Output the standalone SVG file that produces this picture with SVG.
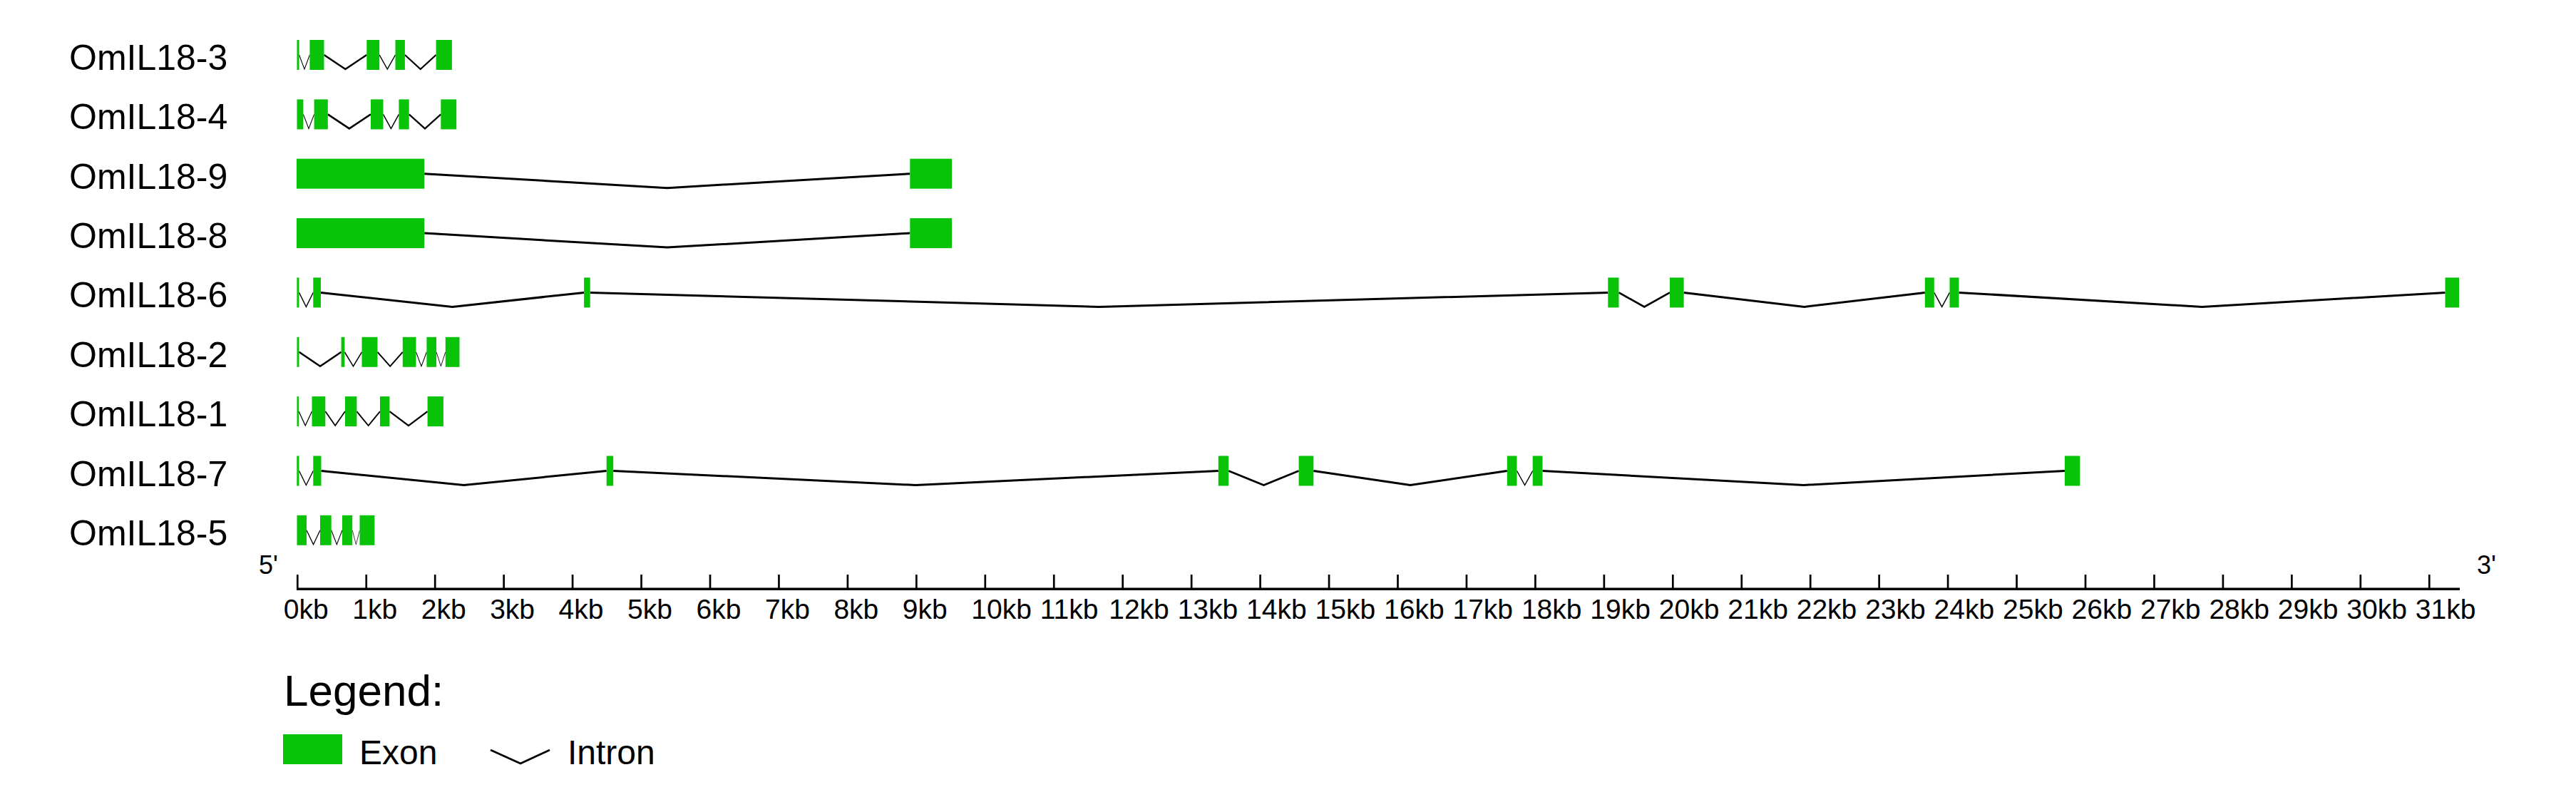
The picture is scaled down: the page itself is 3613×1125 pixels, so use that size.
<svg xmlns="http://www.w3.org/2000/svg" width="3613" height="1125" viewBox="0 0 3613 1125">
<style>
text{font-family:"Liberation Sans",Arial,sans-serif;fill:#000}
.lab{font-size:50px}
.ex{fill:#09c309}
.in{fill:none;stroke:#000;stroke-linejoin:miter}
.tk{stroke:#000;stroke-width:2.7}
.kb{font-size:39px}
</style>
<rect width="3613" height="1125" fill="#fff"/>
<g id="connectors">
<polyline class="in" stroke-width="1.04" points="419.6,77 427,97 434.4,77"/>
<polyline class="in" stroke-width="2.49" points="454.5,77 484.4,97 514.3,77"/>
<polyline class="in" stroke-width="1.47" points="532.1,77 543.3,97 554.5,77"/>
<polyline class="in" stroke-width="2.21" points="567.9,77 589.75,97 611.6,77"/>
<polyline class="in" stroke-width="1.07" points="425.4,160.4 433,180.4 440.6,160.4"/>
<polyline class="in" stroke-width="2.5" points="459.8,160.4 489.9,180.4 520,160.4"/>
<polyline class="in" stroke-width="1.44" points="537.5,160.4 548.45,180.4 559.4,160.4"/>
<polyline class="in" stroke-width="2.23" points="573.7,160.4 596,180.4 618.3,160.4"/>
<polyline class="in" stroke-width="3" points="595.2,243.7 935.75,263.7 1276.3,243.7"/>
<polyline class="in" stroke-width="3" points="595.2,327.1 935.75,347.1 1276.3,327.1"/>
<polyline class="in" stroke-width="1.33" points="419.5,410.4 429.4,430.4 439.3,410.4"/>
<polyline class="in" stroke-width="3" points="450,410.4 634.55,430.4 819.1,410.4"/>
<polyline class="in" stroke-width="3" points="827.7,410.4 1541.5,430.4 2255.3,410.4"/>
<polyline class="in" stroke-width="2.62" points="2270.5,410.4 2306.25,430.4 2342,410.4"/>
<polyline class="in" stroke-width="3" points="2361.6,410.4 2530.7,430.4 2699.8,410.4"/>
<polyline class="in" stroke-width="1.43" points="2712.8,410.4 2723.65,430.4 2734.5,410.4"/>
<polyline class="in" stroke-width="3" points="2747.5,410.4 3088.5,430.4 3429.5,410.4"/>
<polyline class="in" stroke-width="2.49" points="419.5,493.8 449.05,513.8 478.6,493.8"/>
<polyline class="in" stroke-width="1.55" points="483.4,493.8 495.45,513.8 507.5,493.8"/>
<polyline class="in" stroke-width="1.98" points="529.5,493.8 547.15,513.8 564.8,493.8"/>
<polyline class="in" stroke-width="1.05" points="583.5,493.8 590.95,513.8 598.4,493.8"/>
<polyline class="in" stroke-width="0.91" points="612,493.8 618.4,513.8 624.8,493.8"/>
<polyline class="in" stroke-width="1.26" points="419,577.1 428.25,597.1 437.5,577.1"/>
<polyline class="in" stroke-width="1.71" points="456.3,577.1 470.15,597.1 484,577.1"/>
<polyline class="in" stroke-width="1.9" points="500.4,577.1 516.7,597.1 533,577.1"/>
<polyline class="in" stroke-width="2.4" points="546.4,577.1 573,597.1 599.6,577.1"/>
<polyline class="in" stroke-width="1.33" points="419.5,660.5 429.4,680.5 439.3,660.5"/>
<polyline class="in" stroke-width="3" points="450.5,660.5 650.6,680.5 850.7,660.5"/>
<polyline class="in" stroke-width="3" points="860.2,660.5 1284.5,680.5 1708.8,660.5"/>
<polyline class="in" stroke-width="2.78" points="1723.2,660.5 1772.4,680.5 1821.6,660.5"/>
<polyline class="in" stroke-width="2.97" points="1842.3,660.5 1978.05,680.5 2113.8,660.5"/>
<polyline class="in" stroke-width="1.46" points="2127.5,660.5 2138.6,680.5 2149.7,660.5"/>
<polyline class="in" stroke-width="3" points="2163.5,660.5 2529.7,680.5 2895.9,660.5"/>
<polyline class="in" stroke-width="1.29" points="430,743.8 439.5,763.8 449,743.8"/>
<polyline class="in" stroke-width="1.07" points="464.7,743.8 472.35,763.8 480,743.8"/>
<polyline class="in" stroke-width="0.75" points="494.2,743.8 499.35,763.8 504.5,743.8"/>
</g>
<g id="OmIL18-3">
<text class="lab" x="97" y="98">OmIL18-3</text>
<rect class="ex" x="416.5" y="56" width="3.1" height="42"/>
<rect class="ex" x="434.4" y="56" width="20.1" height="42"/>
<rect class="ex" x="514.3" y="56" width="17.8" height="42"/>
<rect class="ex" x="554.5" y="56" width="13.4" height="42"/>
<rect class="ex" x="611.6" y="56" width="22.3" height="42"/>
</g>
<g id="OmIL18-4">
<text class="lab" x="97" y="181.4">OmIL18-4</text>
<rect class="ex" x="416.5" y="139.4" width="8.9" height="42"/>
<rect class="ex" x="440.6" y="139.4" width="19.2" height="42"/>
<rect class="ex" x="520" y="139.4" width="17.5" height="42"/>
<rect class="ex" x="559.4" y="139.4" width="14.3" height="42"/>
<rect class="ex" x="618.3" y="139.4" width="21.9" height="42"/>
</g>
<g id="OmIL18-9">
<text class="lab" x="97" y="264.7">OmIL18-9</text>
<rect class="ex" x="416" y="222.7" width="179.2" height="42"/>
<rect class="ex" x="1276.3" y="222.7" width="58.7" height="42"/>
</g>
<g id="OmIL18-8">
<text class="lab" x="97" y="348.1">OmIL18-8</text>
<rect class="ex" x="416" y="306.1" width="179.2" height="42"/>
<rect class="ex" x="1276.3" y="306.1" width="58.7" height="42"/>
</g>
<g id="OmIL18-6">
<text class="lab" x="97" y="431.4">OmIL18-6</text>
<rect class="ex" x="416.4" y="389.4" width="3.1" height="42"/>
<rect class="ex" x="439.3" y="389.4" width="10.7" height="42"/>
<rect class="ex" x="819.1" y="389.4" width="8.6" height="42"/>
<rect class="ex" x="2255.3" y="389.4" width="15.2" height="42"/>
<rect class="ex" x="2342" y="389.4" width="19.6" height="42"/>
<rect class="ex" x="2699.8" y="389.4" width="13" height="42"/>
<rect class="ex" x="2734.5" y="389.4" width="13" height="42"/>
<rect class="ex" x="3429.5" y="389.4" width="19.5" height="42"/>
</g>
<g id="OmIL18-2">
<text class="lab" x="97" y="514.8">OmIL18-2</text>
<rect class="ex" x="416.5" y="472.8" width="3" height="42"/>
<rect class="ex" x="478.6" y="472.8" width="4.8" height="42"/>
<rect class="ex" x="507.5" y="472.8" width="22" height="42"/>
<rect class="ex" x="564.8" y="472.8" width="18.7" height="42"/>
<rect class="ex" x="598.4" y="472.8" width="13.6" height="42"/>
<rect class="ex" x="624.8" y="472.8" width="19.7" height="42"/>
</g>
<g id="OmIL18-1">
<text class="lab" x="97" y="598.1">OmIL18-1</text>
<rect class="ex" x="416.5" y="556.1" width="2.5" height="42"/>
<rect class="ex" x="437.5" y="556.1" width="18.8" height="42"/>
<rect class="ex" x="484" y="556.1" width="16.4" height="42"/>
<rect class="ex" x="533" y="556.1" width="13.4" height="42"/>
<rect class="ex" x="599.6" y="556.1" width="22.3" height="42"/>
</g>
<g id="OmIL18-7">
<text class="lab" x="97" y="681.5">OmIL18-7</text>
<rect class="ex" x="416.3" y="639.5" width="3.2" height="42"/>
<rect class="ex" x="439.3" y="639.5" width="11.2" height="42"/>
<rect class="ex" x="850.7" y="639.5" width="9.5" height="42"/>
<rect class="ex" x="1708.8" y="639.5" width="14.4" height="42"/>
<rect class="ex" x="1821.6" y="639.5" width="20.7" height="42"/>
<rect class="ex" x="2113.8" y="639.5" width="13.7" height="42"/>
<rect class="ex" x="2149.7" y="639.5" width="13.8" height="42"/>
<rect class="ex" x="2895.9" y="639.5" width="21.4" height="42"/>
</g>
<g id="OmIL18-5">
<text class="lab" x="97" y="764.8">OmIL18-5</text>
<rect class="ex" x="416.5" y="722.8" width="13.5" height="42"/>
<rect class="ex" x="449" y="722.8" width="15.7" height="42"/>
<rect class="ex" x="480" y="722.8" width="14.2" height="42"/>
<rect class="ex" x="504.5" y="722.8" width="20.9" height="42"/>
</g>
<g id="axis">
<text x="363" y="805" font-size="36">5'</text>
<text x="3474" y="805" font-size="36">3'</text>
<line x1="416" y1="826.3" x2="3450" y2="826.3" stroke="#000" stroke-width="3.6"/>
<line class="tk" x1="417.3" y1="806" x2="417.3" y2="826"/>
<line class="tk" x1="513.75" y1="806" x2="513.75" y2="826"/>
<line class="tk" x1="610.2" y1="806" x2="610.2" y2="826"/>
<line class="tk" x1="706.65" y1="806" x2="706.65" y2="826"/>
<line class="tk" x1="803.1" y1="806" x2="803.1" y2="826"/>
<line class="tk" x1="899.55" y1="806" x2="899.55" y2="826"/>
<line class="tk" x1="996" y1="806" x2="996" y2="826"/>
<line class="tk" x1="1092.45" y1="806" x2="1092.45" y2="826"/>
<line class="tk" x1="1188.9" y1="806" x2="1188.9" y2="826"/>
<line class="tk" x1="1285.35" y1="806" x2="1285.35" y2="826"/>
<line class="tk" x1="1381.8" y1="806" x2="1381.8" y2="826"/>
<line class="tk" x1="1478.25" y1="806" x2="1478.25" y2="826"/>
<line class="tk" x1="1574.7" y1="806" x2="1574.7" y2="826"/>
<line class="tk" x1="1671.15" y1="806" x2="1671.15" y2="826"/>
<line class="tk" x1="1767.6" y1="806" x2="1767.6" y2="826"/>
<line class="tk" x1="1864.05" y1="806" x2="1864.05" y2="826"/>
<line class="tk" x1="1960.5" y1="806" x2="1960.5" y2="826"/>
<line class="tk" x1="2056.95" y1="806" x2="2056.95" y2="826"/>
<line class="tk" x1="2153.4" y1="806" x2="2153.4" y2="826"/>
<line class="tk" x1="2249.85" y1="806" x2="2249.85" y2="826"/>
<line class="tk" x1="2346.3" y1="806" x2="2346.3" y2="826"/>
<line class="tk" x1="2442.75" y1="806" x2="2442.75" y2="826"/>
<line class="tk" x1="2539.2" y1="806" x2="2539.2" y2="826"/>
<line class="tk" x1="2635.65" y1="806" x2="2635.65" y2="826"/>
<line class="tk" x1="2732.1" y1="806" x2="2732.1" y2="826"/>
<line class="tk" x1="2828.55" y1="806" x2="2828.55" y2="826"/>
<line class="tk" x1="2925" y1="806" x2="2925" y2="826"/>
<line class="tk" x1="3021.45" y1="806" x2="3021.45" y2="826"/>
<line class="tk" x1="3117.9" y1="806" x2="3117.9" y2="826"/>
<line class="tk" x1="3214.35" y1="806" x2="3214.35" y2="826"/>
<line class="tk" x1="3310.8" y1="806" x2="3310.8" y2="826"/>
<line class="tk" x1="3407.25" y1="806" x2="3407.25" y2="826"/>
<text class="kb" x="397.8" y="868">0kb</text>
<text class="kb" x="494.25" y="868">1kb</text>
<text class="kb" x="590.7" y="868">2kb</text>
<text class="kb" x="687.15" y="868">3kb</text>
<text class="kb" x="783.6" y="868">4kb</text>
<text class="kb" x="880.05" y="868">5kb</text>
<text class="kb" x="976.5" y="868">6kb</text>
<text class="kb" x="1072.95" y="868">7kb</text>
<text class="kb" x="1169.4" y="868">8kb</text>
<text class="kb" x="1265.85" y="868">9kb</text>
<text class="kb" x="1362.3" y="868">10kb</text>
<text class="kb" x="1458.75" y="868">11kb</text>
<text class="kb" x="1555.2" y="868">12kb</text>
<text class="kb" x="1651.65" y="868">13kb</text>
<text class="kb" x="1748.1" y="868">14kb</text>
<text class="kb" x="1844.55" y="868">15kb</text>
<text class="kb" x="1941" y="868">16kb</text>
<text class="kb" x="2037.45" y="868">17kb</text>
<text class="kb" x="2133.9" y="868">18kb</text>
<text class="kb" x="2230.35" y="868">19kb</text>
<text class="kb" x="2326.8" y="868">20kb</text>
<text class="kb" x="2423.25" y="868">21kb</text>
<text class="kb" x="2519.7" y="868">22kb</text>
<text class="kb" x="2616.15" y="868">23kb</text>
<text class="kb" x="2712.6" y="868">24kb</text>
<text class="kb" x="2809.05" y="868">25kb</text>
<text class="kb" x="2905.5" y="868">26kb</text>
<text class="kb" x="3001.95" y="868">27kb</text>
<text class="kb" x="3098.4" y="868">28kb</text>
<text class="kb" x="3194.85" y="868">29kb</text>
<text class="kb" x="3291.3" y="868">30kb</text>
<text class="kb" x="3387.75" y="868">31kb</text>
</g>
<g id="legend">
<text x="398" y="990" font-size="62">Legend:</text>
<rect class="ex" x="397" y="1030" width="83" height="42"/>
<text x="504" y="1072" font-size="48">Exon</text>
<polyline class="in" stroke-width="2.7" points="688,1052 730,1071 771,1052"/>
<text x="796" y="1072" font-size="48">Intron</text>
</g>
</svg>
